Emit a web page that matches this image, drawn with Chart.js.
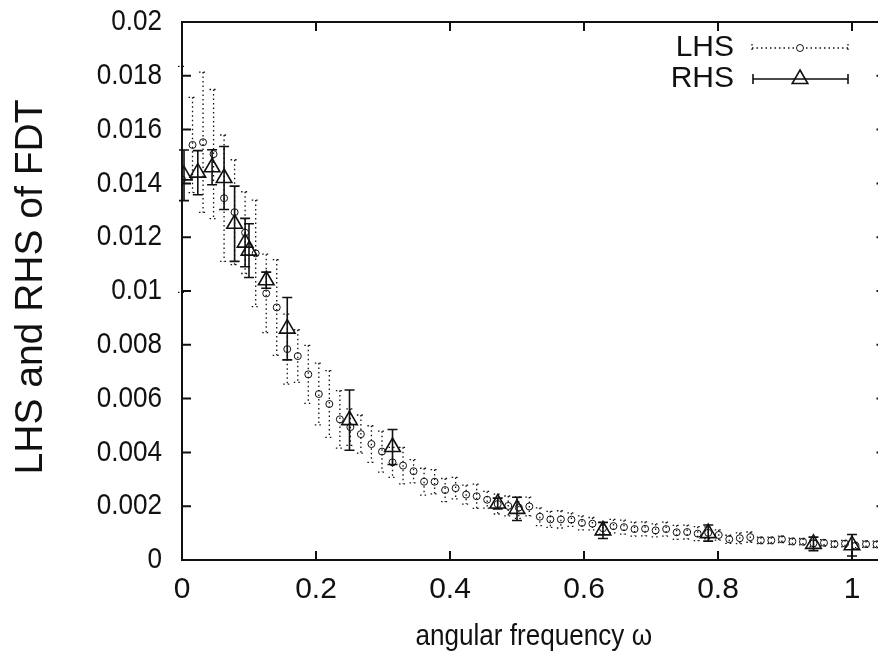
<!DOCTYPE html>
<html><head><meta charset="utf-8">
<script src="https://cdn.jsdelivr.net/npm/chart.js@4/dist/chart.umd.min.js"></script>
<style>html,body{margin:0;padding:0;overflow:hidden;background:#fff;width:878px;height:657px}
#wrap{position:relative;width:900px;height:657px}</style></head>
<body><div id="wrap"><canvas id="c" width="900" height="657"></canvas></div>
<script>
// ---- data ----
const lhsX = [0,0.0157,0.0314,0.0471,0.0628,0.0785,0.0942,0.1100,0.1257,0.1414,0.1571,0.1728,0.1885,0.2042,0.2199,0.2356,0.2513,0.2670,0.2827,0.2985,0.3142,0.3299,0.3456,0.3613,0.3770,0.3927,0.4084,0.4241,0.4398,0.4555,0.4712,0.4869,0.5027,0.5184,0.5341,0.5498,0.5655,0.5812,0.5969,0.6126,0.6283,0.6440,0.6597,0.6754,0.6912,0.7069,0.7226,0.7383,0.7540,0.7697,0.7854,0.8011,0.8168,0.8325,0.8482,0.8639,0.8796,0.8954,0.9111,0.9268,0.9425,0.9582,0.9739,0.9896,1.0053,1.0210,1.0367];
const lhsY = [0.01415,0.01543,0.01553,0.01509,0.01345,0.01293,0.01217,0.01140,0.00991,0.00939,0.00784,0.00758,0.00690,0.00617,0.00580,0.00523,0.00494,0.00468,0.00431,0.00403,0.00363,0.00351,0.00330,0.00291,0.00291,0.00260,0.00267,0.00243,0.00237,0.00224,0.00208,0.00201,0.00195,0.00199,0.00161,0.00151,0.00151,0.00150,0.00138,0.00135,0.00118,0.00126,0.00122,0.00115,0.00116,0.00110,0.00115,0.00103,0.00104,0.00098,0.00101,0.00093,0.00077,0.00081,0.00085,0.00073,0.00073,0.00077,0.00069,0.00068,0.00062,0.00064,0.00059,0.00061,0.00053,0.00059,0.00058];
const lhsErr = [0.00420,0.00177,0.00261,0.00240,0.00235,0.00195,0.00152,0.00198,0.00146,0.00178,0.00130,0.00098,0.00108,0.00115,0.00124,0.00107,0.00068,0.00071,0.00068,0.00076,0.00056,0.00068,0.00043,0.00050,0.00045,0.00043,0.00040,0.00035,0.00045,0.00031,0.00037,0.00037,0.00040,0.00035,0.00033,0.00030,0.00032,0.00025,0.00026,0.00023,0.00022,0.00025,0.00026,0.00026,0.00026,0.00024,0.00026,0.00026,0.00026,0.00026,0.00022,0.00019,0.00015,0.00020,0.00019,0.00012,0.00012,0.00012,0.00012,0.00012,0.00012,0.00012,0.00012,0.00012,0.00012,0.00012,0.00012];
const rhsX = [0.003,0.0236,0.0449,0.0628,0.0785,0.0942,0.1000,0.1257,0.1571,0.2500,0.3142,0.4712,0.5000,0.6283,0.7854,0.9425,1.0000];
const rhsY = [0.0143,0.0144,0.0146,0.0142,0.0125,0.0118,0.0115,0.0104,0.0086,0.0052,0.0042,0.0021,0.0019,0.0011,0.0010,0.0006,0.00055];
const rhsErr = [0.00094,0.00082,0.00065,0.00117,0.00140,0.00090,0.00100,0.00030,0.00116,0.00112,0.00065,0.00020,0.00043,0.00030,0.00030,0.00025,0.00040];
const xTicks = [0,0.2,0.4,0.6,0.8,1];
const yTicks = [0,0.002,0.004,0.006,0.008,0.01,0.012,0.014,0.016,0.018,0.02];
const seriesNames = ['LHS','RHS'];
const xTitle = 'angular frequency \u03c9';
const yTitle = 'LHS and RHS of FDT';

const FAM = '"Liberation Sans", Arial, Helvetica, sans-serif';
const FONT = {family:FAM, size:30};
const YTFONT = {family:FAM, size:39};
const INK = '#111';
// horizontal text squeeze factors (applied around the text anchor)
const SQ_YTICK = 0.87, SQ_XTITLE = 0.87;

const textPlugin = {
  id:'textSqueeze',
  beforeDraw(chart){
    const ctx = chart.ctx;
    if (ctx.__wrapped) return;
    ctx.__wrapped = true;
    const orig = ctx.fillText.bind(ctx);
    ctx.fillText = function(text, x, y, mw){
      let sx = 1, dy = 0;
      if (text === xTitle) sx = SQ_XTITLE;
      else if (text === yTitle) dy = -4;
      else if (ctx.textAlign === 'right' && /^[0-9.]+$/.test(String(text)) && ctx.__tick) sx = SQ_YTICK;
      if (sx === 1 && dy === 0) { return mw === undefined ? orig(text,x,y) : orig(text,x,y,mw); }
      const M = ctx.getTransform();
      const p = M.transformPoint(new DOMPoint(x,y));
      ctx.save();
      ctx.setTransform(new DOMMatrix().translate(p.x,p.y+dy).scale(sx,1).translate(-p.x,-p.y).multiply(M));
      if (mw === undefined) orig(text,x,y); else orig(text,x,y,mw);
      ctx.restore();
    };
  },
  beforeDatasetsDraw(chart){ chart.ctx.__tick = false; }
};

const errPlugin = {
  id:'err',
  beforeDatasetsDraw(chart){
    const ctx = chart.ctx, xs = chart.scales.x, ys = chart.scales.y;
    ctx.save();
    ctx.strokeStyle = INK; ctx.lineWidth = 1.3; ctx.setLineDash([1.5,3]);
    lhsX.forEach((x,i)=>{
      const px = xs.getPixelForValue(x);
      const t = ys.getPixelForValue(lhsY[i]+lhsErr[i]);
      const b = ys.getPixelForValue(lhsY[i]-lhsErr[i]);
      ctx.beginPath();
      ctx.moveTo(px,t); ctx.lineTo(px,b);
      ctx.moveTo(px-4,t); ctx.lineTo(px+4,t);
      ctx.moveTo(px-4,b); ctx.lineTo(px+4,b);
      ctx.stroke();
    });
    ctx.setLineDash([]); ctx.lineWidth = 1.6;
    rhsX.forEach((x,i)=>{
      const px = xs.getPixelForValue(x);
      const t = ys.getPixelForValue(rhsY[i]+rhsErr[i]);
      const b = ys.getPixelForValue(rhsY[i]-rhsErr[i]);
      ctx.beginPath();
      ctx.moveTo(px,t); ctx.lineTo(px,b);
      ctx.moveTo(px-5,t); ctx.lineTo(px+5,t);
      ctx.moveTo(px-5,b); ctx.lineTo(px+5,b);
      ctx.stroke();
    });
    ctx.restore();
  },
  afterDraw(chart){
    const ctx = chart.ctx, a = chart.chartArea, xs = chart.scales.x, ys = chart.scales.y;
    ctx.save();
    ctx.strokeStyle = INK; ctx.lineWidth = 2;
    ctx.strokeRect(a.left, a.top, a.right-a.left, a.bottom-a.top);
    ctx.beginPath();
    xTicks.forEach(v=>{const p = xs.getPixelForValue(v);
      ctx.moveTo(p,a.bottom); ctx.lineTo(p,a.bottom-9);
      ctx.moveTo(p,a.top); ctx.lineTo(p,a.top+9);});
    yTicks.forEach(v=>{const p = ys.getPixelForValue(v);
      ctx.moveTo(a.left,p); ctx.lineTo(a.left+9,p);
      ctx.moveTo(a.right,p); ctx.lineTo(a.right-9,p);});
    ctx.stroke();
    // legend
    ctx.font = FONT.size+'px '+FONT.family;
    ctx.fillStyle = INK; ctx.textAlign='right'; ctx.textBaseline='middle';
    const ly = [48,79];
    ctx.fillText(seriesNames[0], 734, ly[0]);
    ctx.fillText(seriesNames[1], 734, ly[1]);
    ctx.lineWidth = 1.3; ctx.setLineDash([1.5,3]);
    ctx.beginPath();
    ctx.moveTo(752,ly[0]); ctx.lineTo(848,ly[0]);
    ctx.moveTo(752,ly[0]-4); ctx.lineTo(752,ly[0]+4);
    ctx.moveTo(848,ly[0]-4); ctx.lineTo(848,ly[0]+4);
    ctx.stroke();
    ctx.setLineDash([]); ctx.lineWidth = 1.6;
    ctx.beginPath();
    ctx.moveTo(753,ly[1]); ctx.lineTo(848,ly[1]);
    ctx.moveTo(753,ly[1]-5); ctx.lineTo(753,ly[1]+5);
    ctx.moveTo(848,ly[1]-5); ctx.lineTo(848,ly[1]+5);
    ctx.stroke();
    ctx.lineWidth = 1; ctx.strokeStyle = INK; ctx.fillStyle='#fff';
    Chart.helpers.drawPoint(ctx, {pointStyle:'circle', radius:3.5, borderWidth:1}, 800, ly[0]);
    ctx.lineWidth = 1.6; ctx.fillStyle='rgba(0,0,0,0)';
    Chart.helpers.drawPoint(ctx, {pointStyle:'triangle', radius:9, borderWidth:1.6}, 800, ly[1]);
    ctx.restore();
  }
};

new Chart(document.getElementById('c'), {
  type:'scatter',
  data:{datasets:[
    {label:seriesNames[0], data:lhsX.map((x,i)=>({x, y:lhsY[i]})), pointStyle:'circle', pointRadius:3.5,
     borderColor:INK, backgroundColor:'rgba(0,0,0,0)', pointBorderWidth:1, showLine:false},
    {label:seriesNames[1], data:rhsX.map((x,i)=>({x, y:rhsY[i]})), pointStyle:'triangle', pointRadius:9,
     borderColor:INK, backgroundColor:'rgba(0,0,0,0)', pointBorderWidth:1.6, showLine:false}
  ]},
  options:{
    responsive:false, animation:false, devicePixelRatio:1,
    layout:{padding:{left:0,right:14.5,top:22,bottom:0}},
    plugins:{legend:{display:false}, tooltip:{enabled:false}},
    scales:{
      x:{type:'linear', min:0, max:1.05,
        afterFit(s){ s.height = 97; },
        afterBuildTicks(s){ s.ticks = xTicks.map(v=>({value:v})); },
        ticks:{font:FONT, color:INK, padding:12, maxRotation:0, autoSkip:false,
          callback:(v)=>String(Number(v.toFixed(4)))},
        grid:{display:false, drawTicks:false}, border:{display:false},
        title:{display:true, text:xTitle, font:FONT, color:INK, padding:{top:0,bottom:2}}},
      y:{type:'linear', min:0, max:0.02,
        afterFit(s){ s.width = 182; s.paddingTop = 0; s.paddingBottom = 0; },
        afterBuildTicks(s){ s.ticks = yTicks.map(v=>({value:v})); },
        ticks:{font:FONT, color:INK, padding:20, autoSkip:false,
          callback:(v)=>String(Number(v.toFixed(4)))},
        grid:{display:false, drawTicks:false}, border:{display:false},
        title:{display:true, text:yTitle, font:YTFONT, color:INK, padding:{top:8,bottom:0}}}
    }
  },
  plugins:[{id:'tickFlag', beforeDraw(c){ c.ctx.__tick = true; }}, textPlugin, errPlugin]
});
</script></body></html>
